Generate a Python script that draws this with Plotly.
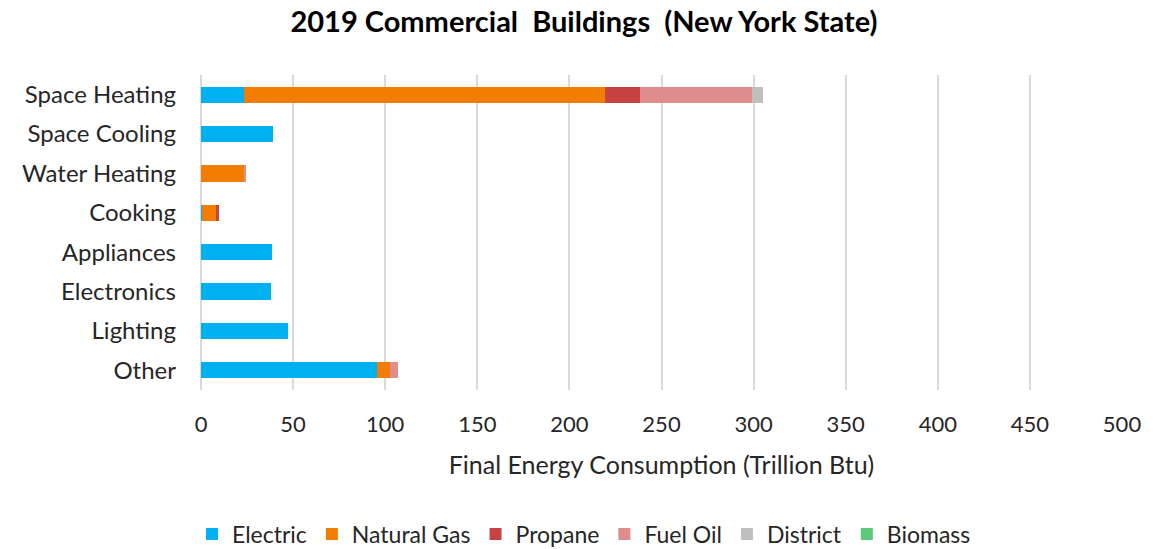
import plotly.graph_objects as go

categories = ["Space Heating", "Space Cooling", "Water Heating", "Cooking",
              "Appliances", "Electronics", "Lighting", "Other"]
electric    = [23.5, 39.3, 0.0, 0.7, 38.6, 38.0, 47.0, 95.6]
natural_gas = [196.0, 0.0, 23.6, 7.5, 0.0, 0.0, 0.0, 7.0]
propane     = [19.0, 0.0, 0.0, 1.6, 0.0, 0.0, 0.0, 0.0]
fuel_oil    = [60.5, 0.0, 0.3, 0.0, 0.0, 0.0, 0.0, 4.2]
district    = [6.0, 0.0, 0.0, 0.0, 0.0, 0.0, 0.0, 0.0]
biomass     = [0.0, 0.0, 0.0, 0.0, 0.0, 0.0, 0.0, 0.0]

series = [
    ("Electric", electric, "#00B0F0"),
    ("Natural Gas", natural_gas, "#F27D00"),
    ("Propane", propane, "#C64342"),
    ("Fuel Oil", fuel_oil, "#DE8C8C"),
    ("District", district, "#BFBFBF"),
    ("Biomass", biomass, "#5DC878"),
]

FONT = "Lato, 'Open Sans', sans-serif"
TXT = "#262626"

fig = go.Figure()
for name, vals, col in series:
    fig.add_trace(go.Bar(
        y=categories, x=vals, name=name, orientation="h",
        marker=dict(color=col, line=dict(width=0)),
    ))

fig.update_layout(
    barmode="stack",
    width=1168, height=549,
    paper_bgcolor="white", plot_bgcolor="white",
    margin=dict(l=201, r=46, t=75, b=159),
    bargap=0.59,
    font=dict(family=FONT, size=23, color=TXT),
    title=dict(text="<b>2019 Commercial  Buildings  (New York State)</b>",
               x=0.5, xanchor="center", xref="container", y=1 - 22 / 549, yanchor="middle",
               font=dict(family=FONT, size=29, color="black")),
    xaxis=dict(range=[0, 500], dtick=50, showgrid=True, gridcolor="#D9D9D9",
               gridwidth=2, zeroline=True, zerolinecolor="#D9D9D9", zerolinewidth=2,
               showline=False, ticks="", ticklen=0, automargin=False,
               ticklabelstandoff=19,
               tickfont=dict(size=22, color=TXT),
               title=dict(text="Final Energy Consumption (Trillion Btu)",
                          font=dict(size=25, color=TXT), standoff=20)),
    yaxis=dict(autorange="reversed", showgrid=False, showline=False, ticks="",
               automargin=False, ticklabelstandoff=24,
               tickfont=dict(size=24, color=TXT)),
    legend=dict(orientation="h", xref="container", x=0.5, xanchor="center",
                yref="container", y=1 - 534 / 549, yanchor="middle",
                font=dict(size=23, color=TXT), traceorder="normal"),
)

fig.write_html("out.html", config={"displayModeBar": False},
               post_script="document.body.style.margin='0';document.body.style.overflow='hidden';")
